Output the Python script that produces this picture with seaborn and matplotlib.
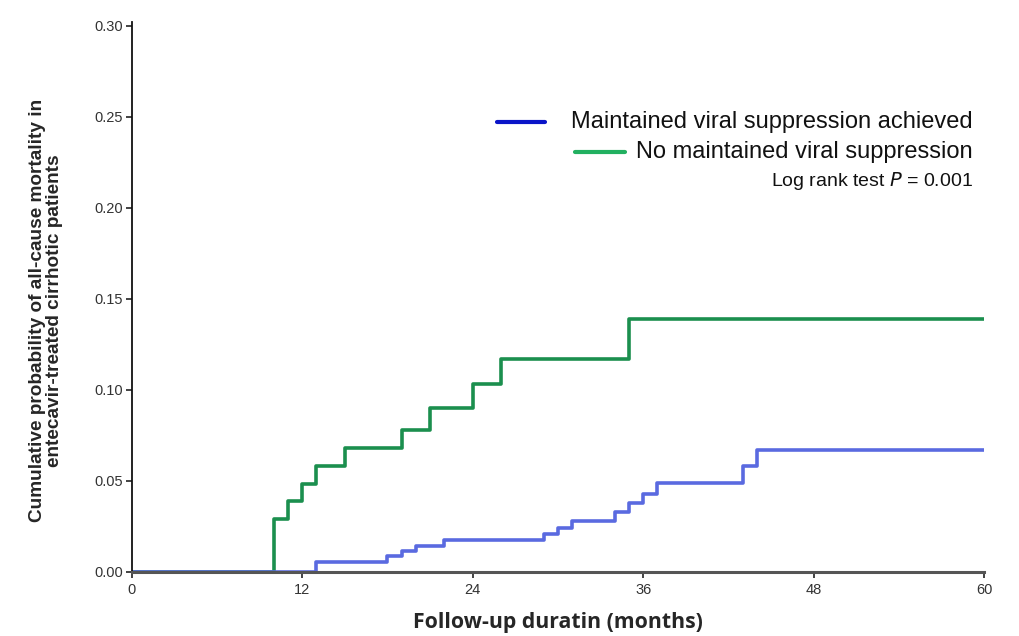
import pandas as pd
import matplotlib
import matplotlib.pyplot as plt
import seaborn as sns
from matplotlib.lines import Line2D

matplotlib.use("Agg")

# Kaplan-Meier style cumulative mortality
green_t = [0, 10, 11, 12, 13, 15, 19, 21, 24, 26, 35, 60]
green_p = [0, 0.029, 0.039, 0.048, 0.058, 0.068, 0.078, 0.090, 0.103, 0.117, 0.139, 0.139]
blue_t = [0, 13, 18, 19, 20, 22, 29, 30, 31, 34, 35, 36, 37, 43, 44, 60]
blue_p = [0, 0.0055, 0.0087, 0.0115, 0.0142, 0.0175, 0.021, 0.024, 0.028, 0.033,
          0.038, 0.043, 0.049, 0.058, 0.067, 0.067]

groups = ["No maintained viral suppression", "Maintained viral suppression achieved"]
x_ticks = [0, 12, 24, 36, 48, 60]
y_ticks = [0.00, 0.05, 0.10, 0.15, 0.20, 0.25, 0.30]

df = pd.concat([
    pd.DataFrame({"t": green_t, "p": green_p, "group": groups[0]}),
    pd.DataFrame({"t": blue_t, "p": blue_p, "group": groups[1]}),
], ignore_index=True)

sns.set_style("ticks")
plt.rcParams["font.family"] = ["Liberation Sans", "DejaVu Sans"]

fig = plt.figure(figsize=(10.2, 6.36), dpi=100)
ax = fig.add_axes([0.129, 0.101, 0.836, 0.864])

sns.lineplot(data=df, x="t", y="p", hue="group", drawstyle="steps-post",
             palette={groups[0]: "#1b8f4e", groups[1]: "#5a6ae0"},
             estimator=None, sort=False, legend=False, linewidth=2.6, ax=ax)

ax.set_xlim(0, 60)
ax.set_ylim(0, 0.302)
ax.set_xticks(x_ticks)
ax.set_xticklabels([str(v) for v in x_ticks])
ax.set_yticks(y_ticks)
ax.set_yticklabels([f"{v:.2f}" for v in y_ticks])
ax.tick_params(axis="both", labelsize=10.5, labelcolor="#333333", color="#222222",
               length=4, width=1.2, direction="out")
ax.tick_params(axis="x", pad=4)
ax.tick_params(axis="y", pad=2)
sns.despine(ax=ax)
ax.spines["left"].set_linewidth(1.3)
ax.spines["bottom"].set_linewidth(2.2)
ax.spines["bottom"].set_color("#555555")
ax.spines["left"].set_color("#111111")

ax.set_xlabel("Follow-up duratin (months)", fontsize=15.3, fontweight="bold",
              family=["Open Sans", "DejaVu Sans"], labelpad=11)
ax.set_ylabel("Cumulative probability of all-cause mortality in\nentecavir-treated cirrhotic patients",
              fontsize=13.7, fontweight="bold", linespacing=1.05)
ax.yaxis.set_label_coords(-0.08, 0.475)

# legend block, right aligned like the original
fig.add_artist(Line2D([497 / 1020, 545 / 1020], [1 - 122 / 636] * 2, color="#0a14c8", lw=3))
fig.add_artist(Line2D([575 / 1020, 625 / 1020], [1 - 152 / 636] * 2, color="#22b060", lw=3))
fig.text(973 / 1020, 1 - 122 / 636, groups[1], ha="right", va="center", fontsize=17, color="#111111")
fig.text(973 / 1020, 1 - 152 / 636, groups[0], ha="right", va="center", fontsize=17, color="#111111")
fig.text(973 / 1020, 1 - 181 / 636, "Log rank test $\\it{P}$ = 0.001", ha="right", va="center",
         fontsize=14, color="#111111")

fig.savefig("out.png", dpi=100)
